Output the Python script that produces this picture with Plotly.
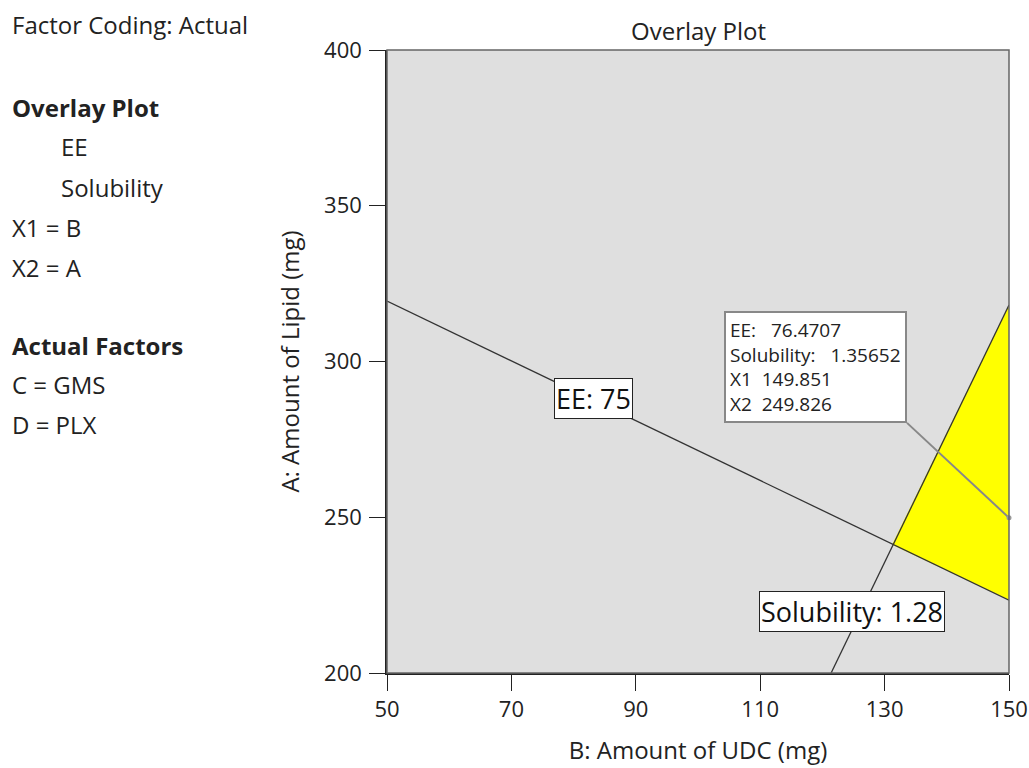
import plotly.graph_objects as go

# ---- data ----
x_range = [50, 150]
y_range = [200, 400]
x_ticks = [50, 70, 90, 110, 130, 150]
y_ticks = [200, 250, 300, 350, 400]

ee_contour_x = [50, 150]
ee_contour_y = [319.4, 223.4]
sol_contour_x = [121.4, 150]
sol_contour_y = [200, 318.1]

region_x = [131.2, 150, 150, 131.2]
region_y = [241.2, 318.1, 223.4, 241.2]

flag_point = (150, 249.826)
flag_lines = ["EE:   76.4707", "Solubility:   1.35652", "X1  149.851", "X2  249.826"]
flag_box_corner = (133.6, 280.3)

ee_label = ("EE: 75", 83.2, 288.0)
sol_label = ("Solubility: 1.28", 124.8, 219.9)

left_panel = [
    ("Factor Coding: Actual", 10, 25, False),
    ("Overlay Plot", 10, 107, True),
    ("EE", 59, 147, False),
    ("Solubility", 59, 187, False),
    ("X1 = B", 10, 227, False),
    ("X2 = A", 10, 267, False),
    ("Actual Factors", 10, 345, True),
    ("C = GMS", 10, 384, False),
    ("D = PLX", 10, 424, False),
]

FONT = "Open Sans"
W, H = 1029, 768
L, R, T, B = 387, 20, 50, 95
PW, PH = W - L - R, H - T - B


def px2paper(px, py):
    return (px - L) / PW, (H - B - py) / PH


def nb(s):
    return s.replace(" ", "&nbsp;")


fig = go.Figure()

fig.add_trace(go.Scatter(x=region_x, y=region_y, fill="toself", fillcolor="#ffff00",
                         mode="lines", line=dict(color="#ffff00", width=0),
                         hoverinfo="skip", showlegend=False))
fig.add_trace(go.Scatter(x=ee_contour_x, y=ee_contour_y, mode="lines",
                         line=dict(color="#333333", width=1.3), showlegend=False))
fig.add_trace(go.Scatter(x=sol_contour_x, y=sol_contour_y, mode="lines",
                         line=dict(color="#333333", width=1.3), showlegend=False))
fig.add_trace(go.Scatter(x=[flag_point[0], flag_box_corner[0]],
                         y=[flag_point[1], flag_box_corner[1]], mode="lines",
                         line=dict(color="#888888", width=2), showlegend=False, cliponaxis=False))
fig.add_trace(go.Scatter(x=[flag_point[0]], y=[flag_point[1]], mode="markers",
                         marker=dict(color="#999999", size=5), showlegend=False, cliponaxis=False))

annotations = []
annotations.append(dict(x=flag_box_corner[0], y=flag_box_corner[1], xref="x", yref="y",
                        text="<br>".join(nb(s) for s in flag_lines), showarrow=False, align="left",
                        xanchor="right", yanchor="bottom",
                        font=dict(family=FONT, size=19, color="#222222"),
                        bgcolor="white", bordercolor="#888888", borderwidth=2, borderpad=4))
for txt, x, y in [ee_label, sol_label]:
    annotations.append(dict(x=x, y=y, xref="x", yref="y", text=txt, showarrow=False,
                            font=dict(family=FONT, size=27, color="#111111"),
                            bgcolor="white", bordercolor="#222222", borderwidth=1, borderpad=1))

for txt, px, py, bold in left_panel:
    ax, ay = px2paper(px, py)
    annotations.append(dict(x=ax, y=ay, xref="paper", yref="paper",
                            text=f"<b>{txt}</b>" if bold else txt, showarrow=False,
                            xanchor="left", yanchor="middle",
                            font=dict(family=FONT, size=24, color="#222222")))

tx, ty = px2paper(698, 30)
annotations.append(dict(x=tx, y=ty, xref="paper", yref="paper", text="Overlay Plot",
                        showarrow=False, xanchor="center", yanchor="middle",
                        font=dict(family=FONT, size=24, color="#222222")))

fig.update_layout(
    width=W, height=H,
    margin=dict(l=L, r=R, t=T, b=B, autoexpand=False),
    paper_bgcolor="white", plot_bgcolor="#dfdfdf",
    annotations=annotations,
    shapes=[dict(type="rect", xref="paper", yref="paper", x0=0, y0=0, x1=1, y1=1,
                 line=dict(color="#666666", width=1.5))],
    font=dict(family=FONT, color="#222222"),
)
fig.update_xaxes(range=x_range, tickvals=x_ticks, showgrid=False, zeroline=False,
                 automargin=False,
                 showline=True, linecolor="#222222", linewidth=1.5,
                 ticks="outside", ticklen=16, tickcolor="#222222", ticklabelstandoff=0,
                 tickfont=dict(size=22, family=FONT),
                 title=dict(text="B: Amount of UDC (mg)", font=dict(size=24, family=FONT), standoff=20))
fig.update_yaxes(range=y_range, tickvals=y_ticks, showgrid=False, zeroline=False,
                 automargin=False,
                 showline=True, linecolor="#222222", linewidth=1.5,
                 ticks="outside", ticklen=16, tickcolor="#222222", ticklabelstandoff=3,
                 tickfont=dict(size=22, family=FONT),
                 title=dict(text="A: Amount of Lipid (mg)", font=dict(size=24, family=FONT), standoff=18))

fig.write_html("out.html")
